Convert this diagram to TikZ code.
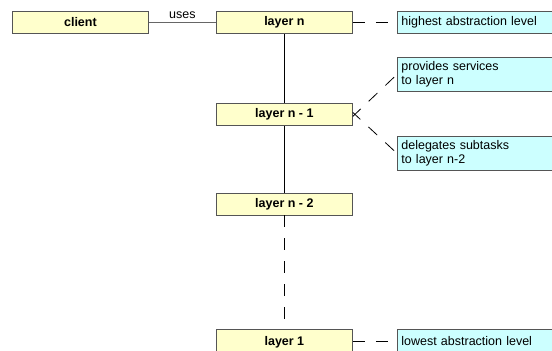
\documentclass[tikz,border=0pt]{standalone}
\usepackage{fontspec}
\setmainfont{Liberation Sans}
\definecolor{layerfill}{HTML}{FFFFCC}
\definecolor{notefill}{HTML}{CCFFFF}
\definecolor{boxline}{HTML}{555555}
\begin{document}
\begin{tikzpicture}[x=1pt,y=-1pt,
  layerbox/.style={draw=boxline,line width=0.8pt,fill=layerfill,minimum width=136pt,minimum height=22pt,
    inner sep=0pt,font=\fontsize{12.5}{14}\selectfont\bfseries,anchor=north west},
  notebox/.style={draw=boxline,line width=0.8pt,fill=notefill,minimum width=170pt,text width=162pt,inner xsep=4pt,inner ysep=0pt,
    align=left,font=\fontsize{12.5}{14}\selectfont,anchor=north west},
  dashline/.style={line width=0.8pt,dash pattern=on 12pt off 11pt},
  solidline/.style={line width=0.8pt}]
\useasboundingbox (0,0) rectangle (552,351);
\node[layerbox] (client) at (12,11) {client};
\node[layerbox] (ln) at (216,11) {layer n};
\node[layerbox] (n1) at (216,103) {layer n - 1};
\node[layerbox] (n2) at (216,192.5) {layer n - 2};
\node[layerbox,minimum height=26pt] (l1) at (216,329) {\raisebox{2pt}{layer 1}};
\node[notebox,minimum height=22pt] (hi) at (397,11) {highest abstraction level};
\node[notebox,minimum height=34pt] (pv) at (397,57) {provides services\\to layer n};
\node[notebox,minimum height=34pt] (dg) at (397,136) {delegates subtasks\\to layer n-2};
\node[notebox,minimum height=26pt] (lo) at (397,329) {\raisebox{2pt}{lowest abstraction level}};
\draw[solidline,draw=black!60] (client.east) -- node[above=0pt,font=\fontsize{12.5}{14}\selectfont] (uses) {uses} (ln.west);
\draw[solidline] (ln.south) -- (n1.north);
\draw[solidline] (n1.south) -- (n2.north);
\draw[dashline] (n2.south) -- (l1.north);
\draw[dashline] (ln.east) -- (hi.west);
\draw[dashline] (l1.east |- 0,341) -- (lo.west |- 0,341);
\draw[dashline,shorten <=4pt] (pv.west) -- ([yshift=-2pt]n1.east);
\draw[dashline,shorten <=4pt] (dg.west) -- ([yshift=2pt]n1.east);
\end{tikzpicture}
\end{document}
